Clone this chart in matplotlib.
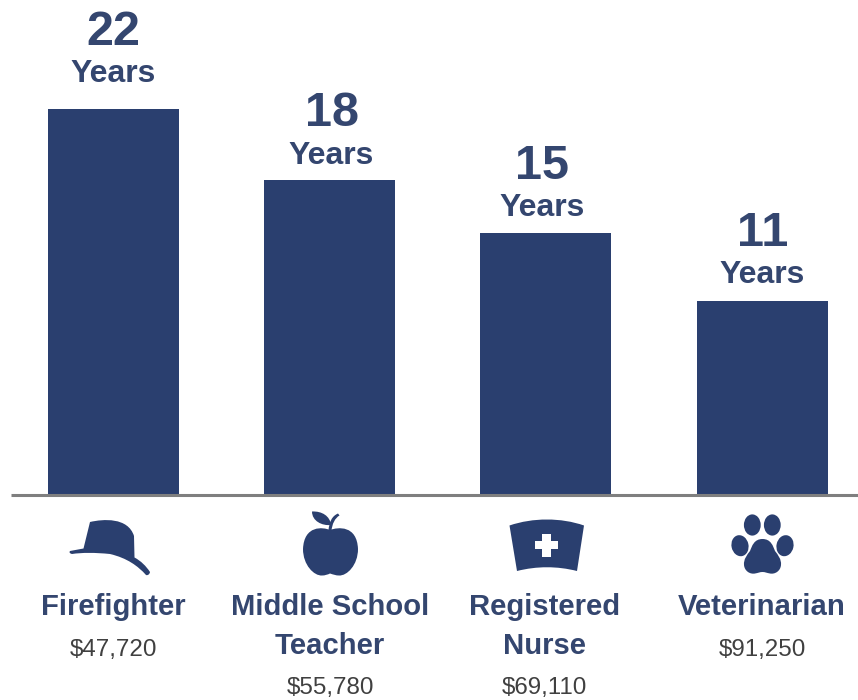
import matplotlib
matplotlib.use("Agg")
import matplotlib.pyplot as plt
from matplotlib.patches import PathPatch, Ellipse, Polygon
from matplotlib.path import Path

plt.rcParams['font.family'] = ['Liberation Sans', 'DejaVu Sans']

occupations = ["Firefighter", "Middle School\nTeacher", "Registered\nNurse", "Veterinarian"]
year_labels = [22, 18, 15, 11]
bar_years = [22.06, 18.0, 14.97, 11.09]
salaries = ["$47,720", "$55,780", "$69,110", "$91,250"]

NAVY = "#2a3f6f"
TITLE = "#34466f"
W, H = 858, 700
SPACING = 216.3
FIRST = 113.3
BASE = 495
PER_YEAR = 17.5

# layout of the value labels (pixels relative to the bar's top centre)
label_dx = [0, 2, -3.5, 0]
number_up = [64, 54, 54, 55]
word_up = [26.5, 16.5, 17, 17.5]

fig = plt.figure(figsize=(W / 100, H / 100), dpi=100)
ax = fig.add_axes([11 / W, (H - BASE) / H, (W - 11) / W, BASE / H])
ax.set_xlim((11 - FIRST) / SPACING, (W - FIRST) / SPACING)
ax.set_ylim(0, BASE / PER_YEAR)
ax.axis("off")
xs = list(range(len(bar_years)))
ax.bar(xs, bar_years, width=131 / SPACING, color=NAVY, linewidth=0)
PT = 0.72
for x, y, lab, dx, nu, wu in zip(xs, bar_years, year_labels, label_dx, number_up, word_up):
    ax.annotate(str(lab), (x, y), xytext=(dx * PT, nu * PT), textcoords="offset points", ha="center",
                va="baseline", fontsize=35, fontweight="bold", color=TITLE, annotation_clip=False)
    ax.annotate("Years", (x, y), xytext=(dx * PT, wu * PT), textcoords="offset points", ha="center",
                va="baseline", fontsize=23, fontweight="bold", color=TITLE, annotation_clip=False)

# overlay in pixel coordinates for the baseline, icons and captions
ov = fig.add_axes([0, 0, 1, 1], facecolor="none")
ov.set_xlim(0, W)
ov.set_ylim(H, 0)
ov.axis("off")
ov.plot([11, W], [BASE, BASE], color="#7f7f7f", lw=2.2, solid_capstyle="butt")

label_x = [113, 330, 544.5, 762]
for lx, name, sal in zip(label_x, occupations, salaries):
    lines = name.split("\n")
    for i, ln in enumerate(lines):
        ov.text(lx, 615 + 39 * i, ln, ha="center", va="baseline", fontsize=21.1,
                fontweight="bold", color=TITLE)
    sy = 656 if len(lines) == 1 else 694
    ov.text(lx, sy, sal, ha="center", va="baseline", fontsize=17.4, color="#404040", clip_on=False)


def shape(verts, codes):
    ov.add_patch(PathPatch(Path(verts, codes), facecolor=NAVY, edgecolor="none"))


M, L, C, Z = Path.MOVETO, Path.LINETO, Path.CURVE4, Path.CLOSEPOLY

# helmet
shape([(70, 551), (83.5, 548.5), (90, 522), (103, 519), (128, 517), (134, 536), (134.5, 557.5),
       (141, 561), (146, 566), (150, 572), (149.5, 575), (147, 575.5), (146, 575),
       (138, 566), (127, 558), (110, 554), (95, 552.5), (82, 552.5), (72, 554), (68, 553), (70, 551), (70, 551)],
      [M, L, L, C, C, C, L, C, C, C, C, C, C, C, C, C, C, C, C, C, C, Z])

# apple body
shape([(330, 530), (323, 527), (304, 525), (303, 549), (303, 565), (314, 576), (322, 575.5),
       (325, 575.5), (328, 574.5), (330, 573.5), (333, 574.5), (336, 575.5), (339, 575.5),
       (347, 576), (358, 565), (358, 549), (357, 525), (338, 527), (330, 530), (330, 530)],
      [M, C, C, C, C, C, C, C, C, C, C, C, C, C, C, C, C, C, C, Z])
# apple leaf
shape([(312, 511.5), (322, 511), (330, 516), (331, 525), (322, 526), (312, 521), (312, 511.5), (312, 511.5)],
      [M, C, C, C, C, C, C, Z])
# apple stem
shape([(328.5, 531), (329, 522), (332, 516), (338, 513.5), (339.5, 515.5), (335, 518), (332, 524), (331.5, 531), (328.5, 531)],
      [M, C, C, C, L, C, C, C, Z])

# nurse cap
shape([(509.5, 525.5), (533, 517.5), (561, 517.5), (584, 525.5), (577, 571), (557, 566), (537, 566), (517, 571),
       (509.5, 525.5), (509.5, 525.5)],
      [M, C, C, C, L, C, C, C, L, Z])
cx, cy, a, b = 546.7, 545, 11.5, 4.3
ov.add_patch(Polygon([(cx - b, cy - a), (cx + b, cy - a), (cx + b, cy - b), (cx + a, cy - b),
                      (cx + a, cy + b), (cx + b, cy + b), (cx + b, cy + a), (cx - b, cy + a),
                      (cx - b, cy + b), (cx - a, cy + b), (cx - a, cy - b), (cx - b, cy - b)],
                     closed=True, facecolor="white", edgecolor="none"))

# paw
for ex, ey, rx, ry, ang in [(752.3, 525, 8.4, 10.6, 0), (772.3, 525, 8.4, 10.6, 0),
                            (740, 545.7, 8.5, 10.6, -12), (785, 545.7, 8.5, 10.6, 12)]:
    ov.add_patch(Ellipse((ex, ey), 2 * rx, 2 * ry, angle=ang, facecolor=NAVY, edgecolor="none"))
shape([(762.5, 539), (754, 539), (752, 546), (750, 551), (747, 555), (743.5, 559), (744, 565),
       (744.5, 571), (750, 574.5), (755, 573.5), (758, 573), (760, 572), (762.5, 572),
       (765, 572), (767, 573), (770, 573.5), (775, 574.5), (780.5, 571), (781, 565),
       (781.5, 559), (778, 555), (775, 551), (773, 546), (771, 539), (762.5, 539), (762.5, 539)],
      [M, C, C, C, C, C, C, C, C, C, C, C, C, C, C, C, C, C, C, C, C, C, C, C, C, Z])

fig.savefig("out.png", dpi=100, facecolor="white")
